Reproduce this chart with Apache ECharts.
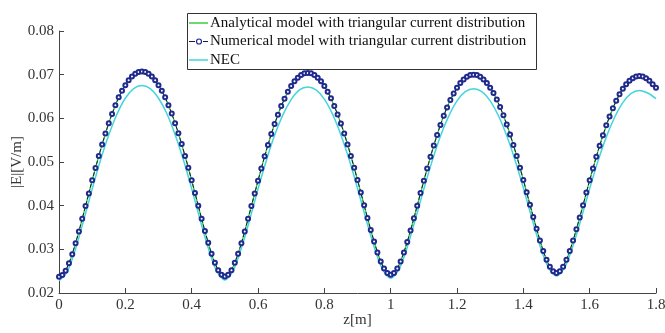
<!DOCTYPE html>
<html>
<head>
<meta charset="utf-8">
<script src="https://cdn.jsdelivr.net/npm/echarts@6/dist/echarts.min.js"></script>
<style>html,body{margin:0;padding:0;background:#fff}#c{width:665px;height:333px}</style>
</head>
<body>
<div id="c"></div>
<script>
// Series values
const numStep = 0.01;
const numerical = [
0.0237,0.0241,0.0251,0.0268,0.0289,0.0314,0.0341,0.0370,0.0399,0.0428,0.0458,0.0486,0.0514,0.0540,0.0565,0.0589,0.0610,0.0630,0.0648,0.0663,0.0676,0.0687,0.0696,0.0702,0.0706,0.0707,
0.0706,0.0702,0.0696,0.0687,0.0676,0.0663,0.0648,0.0630,0.0611,0.0589,0.0566,0.0541,0.0514,0.0487,0.0458,0.0429,0.0400,0.0370,0.0342,0.0315,0.0290,0.0269,0.0252,0.0242,0.0238,
0.0242,0.0252,0.0269,0.0290,0.0314,0.0341,0.0370,0.0399,0.0428,0.0457,0.0485,0.0513,0.0539,0.0564,0.0587,0.0608,0.0628,0.0645,0.0661,0.0674,0.0685,0.0693,0.0699,0.0703,0.0704,
0.0703,0.0699,0.0693,0.0685,0.0674,0.0661,0.0646,0.0628,0.0609,0.0588,0.0565,0.0540,0.0514,0.0487,0.0459,0.0430,0.0401,0.0372,0.0344,0.0318,0.0293,0.0272,0.0256,0.0246,0.0242,
0.0246,0.0256,0.0272,0.0293,0.0317,0.0343,0.0371,0.0400,0.0429,0.0457,0.0485,0.0512,0.0538,0.0562,0.0585,0.0606,0.0625,0.0642,0.0657,0.0670,0.0681,0.0689,0.0695,0.0699,0.0700,
0.0699,0.0695,0.0689,0.0681,0.0670,0.0658,0.0643,0.0626,0.0607,0.0586,0.0563,0.0539,0.0514,0.0487,0.0459,0.0431,0.0402,0.0374,0.0347,0.0320,0.0296,0.0276,0.0260,0.0250,0.0246,
0.0250,0.0260,0.0276,0.0296,0.0320,0.0346,0.0373,0.0401,0.0430,0.0458,0.0485,0.0512,0.0537,0.0561,0.0584,0.0604,0.0623,0.0640,0.0655,0.0668,0.0678,0.0686,0.0692,0.0696,0.0697,
0.0696,0.0692,0.0686,0.0678,0.0670
];
const curveStep = 0.025;
const analytical = [
0.0237,0.0259,0.0314,0.0384,0.0458,0.0527,0.0589,0.0639,0.0676,0.0699,0.0707,
0.0699,0.0676,0.0639,0.0589,0.0527,0.0458,0.0384,0.0314,0.0259,0.0238,
0.0260,0.0314,0.0384,0.0457,0.0526,0.0587,0.0636,0.0674,0.0697,0.0704,
0.0697,0.0674,0.0637,0.0588,0.0528,0.0459,0.0387,0.0318,0.0264,0.0242,
0.0264,0.0317,0.0385,0.0457,0.0525,0.0585,0.0634,0.0670,0.0693,0.0700,
0.0693,0.0671,0.0634,0.0586,0.0527,0.0459,0.0388,0.0321,0.0267,0.0246,
0.0267,0.0320,0.0387,0.0458,0.0525,0.0583,0.0632,0.0668,0.0690,0.0697,
0.0690,0.0670
];
const nec = [
0.0228,0.0249,0.0301,0.0368,0.0438,0.0504,0.0562,0.0610,0.0646,0.0668,0.0675,
0.0668,0.0646,0.0611,0.0563,0.0505,0.0439,0.0369,0.0303,0.0251,0.0230,
0.0251,0.0303,0.0368,0.0438,0.0503,0.0561,0.0608,0.0643,0.0665,0.0672,
0.0665,0.0644,0.0609,0.0562,0.0505,0.0440,0.0371,0.0306,0.0255,0.0234,
0.0254,0.0305,0.0370,0.0438,0.0502,0.0559,0.0605,0.0640,0.0661,0.0668,
0.0661,0.0640,0.0606,0.0560,0.0504,0.0441,0.0373,0.0309,0.0259,0.0239,
0.0259,0.0309,0.0372,0.0439,0.0502,0.0557,0.0602,0.0636,0.0657,0.0664,
0.0658,0.0645
];
const seriesNames = ['Analytical model with triangular current distribution','Numerical model with triangular current distribution','NEC'];
const xTicks = {min:0, max:1.8, interval:0.2};
const yTicks = {min:0.02, max:0.08, interval:0.01};

function pairs(arr, step){ return arr.map((v,i)=>[+(i*step).toFixed(4), v]); }

const font = '"Liberation Serif", "Times New Roman", serif';
const cGreen = '#3ccc3c', cNavy = '#1f2a8c', cCyan = '#44d4dc', cDash = '#1a1a3a';
const chart = echarts.init(document.getElementById('c'), null, {renderer:'canvas'});

// legend drawn as a boxed key
const lgX = 187, lgY = 13, lgW = 349, lgH = 56, rows = [23, 41.5, 60];
const legendGraphic = [
  {type:'rect', shape:{x:lgX+0.5, y:lgY+0.5, width:lgW, height:lgH}, style:{fill:'#fff', stroke:'#333', lineWidth:1}, z:100},
  {type:'line', shape:{x1:189, y1:rows[0], x2:208, y2:rows[0]}, style:{stroke:cGreen, lineWidth:1.5}, z:101},
  {type:'line', shape:{x1:189, y1:rows[1], x2:195, y2:rows[1]}, style:{stroke:cDash, lineWidth:1}, z:101},
  {type:'line', shape:{x1:203, y1:rows[1], x2:208, y2:rows[1]}, style:{stroke:cDash, lineWidth:1}, z:101},
  {type:'circle', shape:{cx:199, cy:rows[1], r:2.5}, style:{fill:'#fff', stroke:cNavy, lineWidth:1.2}, z:102},
  {type:'line', shape:{x1:189, y1:rows[2], x2:208, y2:rows[2]}, style:{stroke:cCyan, lineWidth:1.5}, z:101}
];
seriesNames.forEach((n,i)=>legendGraphic.push({type:'text', x:210, y:rows[i], z:101,
  style:{text:n, fontFamily:font, fontSize:15, fill:'#111', verticalAlign:'middle'}}));

chart.setOption({
  animation:false,
  backgroundColor:'#fff',
  textStyle:{fontFamily:font},
  grid:{left:59, right:9, top:31, bottom:40, containLabel:false, outerBoundsMode:'none'},
  graphic:legendGraphic,
  xAxis:{
    type:'value', min:xTicks.min, max:xTicks.max, interval:xTicks.interval,
    name:'z[m]', nameLocation:'middle', nameGap:20, nameMoveOverlap:false,
    nameTextStyle:{fontFamily:font, fontSize:15, color:'#333'},
    axisLine:{lineStyle:{color:'#444', width:1}},
    axisTick:{inside:true, length:5, lineStyle:{color:'#444'}},
    axisLabel:{fontFamily:font, fontSize:15, color:'#333', margin:5},
    splitLine:{show:false}
  },
  yAxis:{
    type:'value', min:yTicks.min, max:yTicks.max, interval:yTicks.interval,
    name:'|E|[V/m]', nameLocation:'middle', nameGap:34, nameRotate:90, nameMoveOverlap:false,
    nameTextStyle:{fontFamily:font, fontSize:15, color:'#333'},
    axisLine:{show:true, lineStyle:{color:'#444', width:1}},
    axisTick:{show:true, inside:true, length:5, lineStyle:{color:'#444'}},
    axisLabel:{fontFamily:font, fontSize:15, color:'#333', margin:5, formatter:v=>v.toFixed(2)},
    splitLine:{show:false}
  },
  series:[
    {name:seriesNames[0], type:'line', data:pairs(analytical, curveStep), smooth:0.3,
     showSymbol:false, symbol:'none', lineStyle:{color:cGreen, width:1.3}, itemStyle:{color:cGreen}},
    {name:seriesNames[1], type:'line', data:pairs(numerical, numStep),
     symbol:'emptyCircle', symbolSize:4, showAllSymbol:true,
     lineStyle:{color:cDash, width:1, type:'dashed'},
     itemStyle:{color:cNavy, borderColor:cNavy, borderWidth:1.1}},
    {name:seriesNames[2], type:'line', data:pairs(nec, curveStep), smooth:0.3,
     showSymbol:false, symbol:'none', lineStyle:{color:cCyan, width:1.5}, itemStyle:{color:cCyan}}
  ]
});
</script>
</body>
</html>
